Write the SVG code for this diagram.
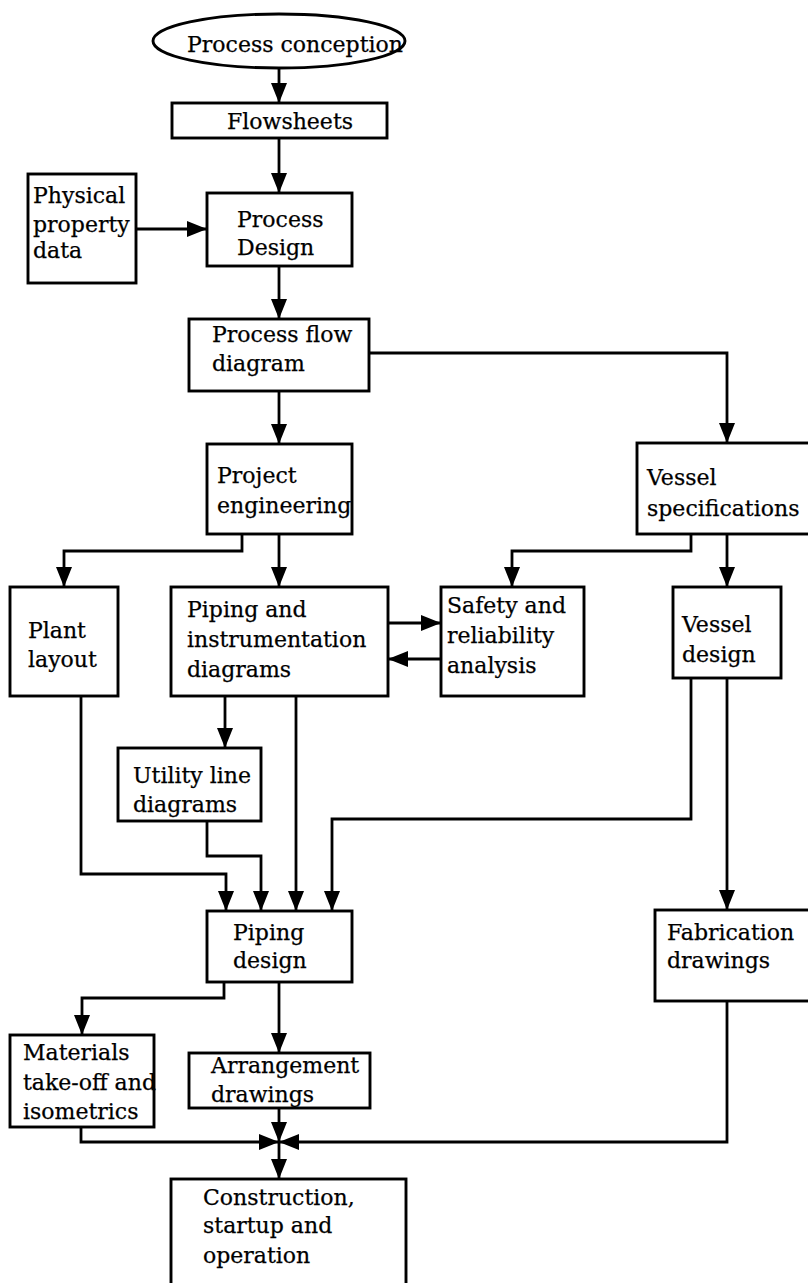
<svg xmlns="http://www.w3.org/2000/svg" width="808" height="1283" viewBox="0 0 808 1283">
  <defs>
    <marker id="arrow" markerUnits="userSpaceOnUse" markerWidth="20" markerHeight="16" refX="20" refY="8" orient="auto">
      <path d="M0,0 L20,8 L0,16 z" fill="#000"/>
    </marker>
    <style>
      .box { fill: #fff; stroke: #000; stroke-width: 2.9; }
      .wire { fill: none; stroke: #000; stroke-width: 2.8; }
      .wire.to { marker-end: url(#arrow); }
      text { font-family: "DejaVu Serif", "Liberation Serif", serif; font-size: 22px; fill: #000; stroke: #000; stroke-width: 0.25; }
    </style>
  </defs>

  <rect width="808" height="1283" fill="#fff"/>

  <!-- connectors -->
  <g id="connectors">
    <path class="wire to" d="M279,68 V103"/>
    <path class="wire to" d="M279,138 V193"/>
    <path class="wire to" d="M136,229 H207"/>
    <path class="wire to" d="M279,266 V319"/>
    <path class="wire to" d="M369,353 H727 V443"/>
    <path class="wire to" d="M279,391 V444"/>
    <path class="wire to" d="M242,534 V551 H64 V587"/>
    <path class="wire to" d="M279,534 V587"/>
    <path class="wire to" d="M691,534 V551 H512 V587"/>
    <path class="wire to" d="M727,534 V587"/>
    <path class="wire to" d="M388,623 H441"/>
    <path class="wire to" d="M441,659 H388"/>
    <path class="wire to" d="M225,696 V748"/>
    <path class="wire to" d="M81,696 V874 H226 V911"/>
    <path class="wire to" d="M207,821 V856 H261 V911"/>
    <path class="wire to" d="M296,696 V911"/>
    <path class="wire to" d="M691,678 V819 H332 V911"/>
    <path class="wire to" d="M727,678 V910"/>
    <path class="wire to" d="M224,982 V998 H82 V1035"/>
    <path class="wire to" d="M279,982 V1053"/>
    <path class="wire to" d="M279,1108 V1142"/>
    <path class="wire to" d="M81,1127 V1142 H279"/>
    <path class="wire to" d="M727,1001 V1142 H279"/>
    <path class="wire to" d="M279,1142 V1179"/>
  </g>

  <!-- nodes -->
  <g id="process-conception">
    <ellipse class="box" cx="279" cy="41" rx="126" ry="27"/>
    <text x="187" y="52">Process conception</text>
  </g>

  <g id="flowsheets">
    <rect class="box" x="172" y="103" width="215" height="35"/>
    <text x="227" y="129">Flowsheets</text>
  </g>

  <g id="physical-property-data">
    <rect class="box" x="28" y="174" width="108" height="109"/>
    <text x="33" y="203">Physical</text>
    <text x="33" y="232">property</text>
    <text x="33" y="258">data</text>
  </g>

  <g id="process-design">
    <rect class="box" x="207" y="193" width="145" height="73"/>
    <text x="237" y="227">Process</text>
    <text x="237" y="255">Design</text>
  </g>

  <g id="process-flow-diagram">
    <rect class="box" x="189" y="319" width="180" height="72"/>
    <text x="212" y="342">Process flow</text>
    <text x="212" y="371">diagram</text>
  </g>

  <g id="project-engineering">
    <rect class="box" x="207" y="444" width="145" height="90"/>
    <text x="217" y="483">Project</text>
    <text x="217" y="513">engineering</text>
  </g>

  <g id="vessel-specifications">
    <rect class="box" x="637" y="443" width="190" height="91"/>
    <text x="647" y="485">Vessel</text>
    <text x="647" y="516">specifications</text>
  </g>

  <g id="plant-layout">
    <rect class="box" x="10" y="587" width="108" height="109"/>
    <text x="28" y="638">Plant</text>
    <text x="28" y="667">layout</text>
  </g>

  <g id="piping-instrumentation">
    <rect class="box" x="171" y="587" width="217" height="109"/>
    <text x="187" y="617">Piping and</text>
    <text x="187" y="647">instrumentation</text>
    <text x="187" y="677">diagrams</text>
  </g>

  <g id="safety-reliability">
    <rect class="box" x="441" y="587" width="143" height="109"/>
    <text x="447" y="613">Safety and</text>
    <text x="447" y="643">reliability</text>
    <text x="447" y="673">analysis</text>
  </g>

  <g id="vessel-design">
    <rect class="box" x="673" y="587" width="108" height="91"/>
    <text x="682" y="632">Vessel</text>
    <text x="682" y="662">design</text>
  </g>

  <g id="utility-line-diagrams">
    <rect class="box" x="118" y="748" width="143" height="73"/>
    <text x="133" y="783">Utility line</text>
    <text x="133" y="812">diagrams</text>
  </g>

  <g id="piping-design">
    <rect class="box" x="207" y="911" width="145" height="71"/>
    <text x="233" y="940">Piping</text>
    <text x="233" y="968">design</text>
  </g>

  <g id="fabrication-drawings">
    <rect class="box" x="655" y="910" width="170" height="91"/>
    <text x="667" y="940">Fabrication</text>
    <text x="667" y="968">drawings</text>
  </g>

  <g id="materials-takeoff">
    <rect class="box" x="10" y="1035" width="144" height="92"/>
    <text x="23" y="1060">Materials</text>
    <text x="23" y="1090">take-off and</text>
    <text x="23" y="1119">isometrics</text>
  </g>

  <g id="arrangement-drawings">
    <rect class="box" x="189" y="1053" width="181" height="55"/>
    <text x="211" y="1073">Arrangement</text>
    <text x="211" y="1102">drawings</text>
  </g>

  <g id="construction">
    <rect class="box" x="171" y="1179" width="235" height="120"/>
    <text x="203" y="1205">Construction,</text>
    <text x="203" y="1233">startup and</text>
    <text x="203" y="1263">operation</text>
  </g>
</svg>
